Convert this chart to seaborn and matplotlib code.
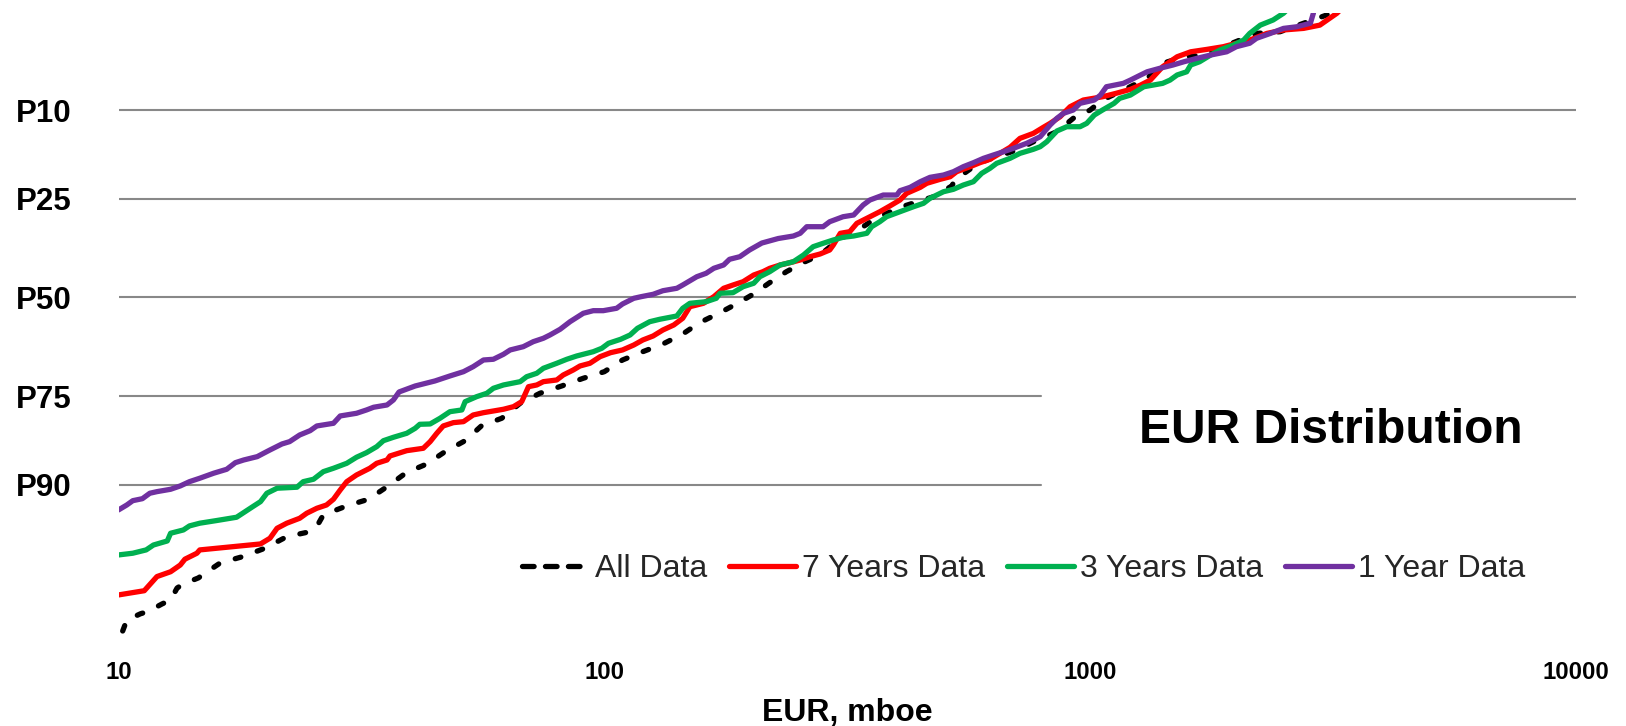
import numpy as np
import pandas as pd
import matplotlib
matplotlib.use("Agg")
import matplotlib.pyplot as plt
from matplotlib.lines import Line2D
from matplotlib.ticker import FixedLocator, NullLocator
import seaborn as sns
from statistics import NormalDist

# ---------------- data (EUR in mboe, exceedance percentile P) ----------------
all_eur = [10.2,10.4,11.1,11.5,12.3,12.8,13.2,13.6,14.6,15,16.2,18,20,22.2,24.8,25.7,26.4,29.5,32.7,35.9,39.1,43.1,47,51.7,55.9,61.5,67.1,73.7,81.7,90.5,100,109,120,132,145,157,173,189,204,218,237,259,278,303,341,361,406,476,519,527,575,613,706,764,854,923,1000,1060,1190,1310,1410,1560,1710,1880,2200,2460,2750,3070,3190]
all_p = [98.87,98.63,98.47,98.41,98.19,98.07,97.65,97.49,97.24,97.06,96.52,96.18,95.68,94.90,94.53,94.00,93.14,92.29,91.61,90.12,88.45,87.25,85.41,83.62,80.96,79.55,76.52,74.37,72.74,70.96,69.40,66.54,64.45,62.47,59.85,56.84,54.14,51.42,48.85,46.13,43.00,40.33,38.57,34.71,31.42,29.51,26.88,24.54,22.30,21.09,18.56,17.36,15.67,14.35,12.85,11.03,10.00,8.85,7.64,6.70,5.47,4.99,4.87,4.32,3.55,3.46,3.04,2.67,2.39]

y7_eur = [10,11.3,12,12.8,13.4,13.7,14.5,14.7,19.6,20.5,21.2,22.2,23.6,24.4,25.6,26.8,27.7,28.6,29.5,30.9,32.9,34,35.7,36.2,39.2,42.4,43.8,45.2,46.6,48.9,51.3,53.7,56.4,62,65,67.6,69.8,72.6,74.9,79.8,82.3,86.3,89.1,93.4,98,103,109,115,120,126,132,139,145,150,160,168,176,184,193,203,212,219,230,241,253,265,278,291,296,306,320,331,347,369,387,406,419,447,461,491,515,531,566,593,622,652,684,717,764,801,827,867,909,968,1060,1130,1210,1270,1330,1410,1510,1610,1740,1880,2000,2130,2310,2500,2750,2970,3220,3350]
y7_p = [97.90,97.75,97.18,96.96,96.63,96.32,95.98,95.78,95.40,95.01,94.27,93.86,93.44,92.99,92.52,92.20,91.61,90.59,89.60,88.75,87.85,87.15,86.67,86.07,85.25,84.87,83.78,82.34,81.01,80.39,80.20,78.91,78.45,77.76,77.23,76.18,72.90,72.51,71.75,71.36,70.19,68.99,68.02,67.36,65.71,64.70,64.01,62.73,61.43,60.38,58.79,57.45,55.65,52.51,51.58,49.78,47.49,46.60,45.70,43.89,43.00,42.09,41.21,40.60,39.89,39.02,38.31,37.27,35.99,33.04,32.64,30.60,29.41,27.88,26.58,25.26,23.82,22.57,21.75,20.96,20.45,19.49,18.56,17.84,17.24,16.22,15.23,13.83,13.09,12.23,11.69,10.83,9.61,8.85,8.50,8.14,7.74,7.32,6.86,5.73,4.99,4.65,4.49,4.32,4.11,3.92,3.55,3.37,3.29,3.13,2.60,2.28]

y3_eur = [10,10.7,11.4,11.8,12.6,12.8,13.6,14,14.7,15.9,17.5,18.1,18.9,19.6,20.2,21.2,23.3,24,25.2,26.4,27.7,29.5,30.9,32.4,34,35.1,36.8,39.2,40.8,41.7,43.8,45.9,48.1,50.9,51.7,54.6,57.3,59.1,62,67.1,69.2,72.6,74.9,79.8,83.7,87.7,94.9,98.8,102,108,113,117,124,130,141,145,150,162,170,173,184,193,203,209,219,230,245,257,269,282,296,310,326,347,355,369,381,406,433,454,468,499,523,548,575,598,622,642,684,717,764,789,814,854,895,953,984,1020,1060,1120,1150,1210,1290,1410,1460,1510,1580,1610,1680,1770,1850,1970,2070,2130,2240,2380,2500,2600]
y3_p = [96.08,95.98,95.78,95.47,95.20,94.65,94.40,94.08,93.86,93.64,93.35,92.93,92.36,91.86,90.96,90.39,90.27,89.60,89.30,88.31,87.85,87.15,86.26,85.56,84.61,83.62,83.04,82.34,81.44,80.70,80.64,79.55,78.25,77.90,76.18,75.11,74.37,73.26,72.51,71.75,70.59,69.78,68.58,67.36,66.36,65.54,64.45,63.58,62.29,61.25,60.11,58.34,56.57,55.92,55.03,52.94,51.58,51.15,50.22,48.85,48.69,47.06,46.13,44.35,43.00,41.21,40.33,38.57,36.42,35.55,34.71,34.04,33.71,33.04,31.42,30.22,29.04,27.88,26.74,25.98,24.89,23.48,22.98,22.10,21.43,19.80,18.86,17.95,17.07,16.22,15.55,15.13,14.35,12.75,12.15,12.15,11.69,10.61,10.00,9.22,8.67,8.32,7.48,7.16,6.86,6.41,6.14,5.60,5.35,4.87,4.53,4.22,3.92,3.55,3.13,2.89,2.60,2.28]

y1_eur = [10,10.4,10.7,11.2,11.6,12,12.8,13.4,14,14.7,15.7,16.7,17.4,18.1,19.3,19.9,20.5,21.7,22.5,23.6,24.8,25.6,27.7,28.6,30.9,32.4,33.5,35.7,36.8,37.8,40.8,44.8,48.1,51.3,53.7,56.4,59.1,62,64,68.1,71.4,74.9,77.3,81.1,85,90.5,94.9,99.5,106,109,115,119,126,132,141,145,155,162,168,176,181,190,199,211,228,245,253,261,282,291,310,326,341,352,375,400,406,426,447,468,499,523,548,575,603,632,663,695,740,789,827,854,881,923,953,1020,1050,1080,1170,1210,1270,1310,1390,1480,1560,1660,1770,1910,2000,2130,2200,2350,2500,2660,2840,2880,2890]
y1_p = [92.68,92.20,91.76,91.55,90.96,90.78,90.51,90.12,89.60,89.17,88.52,87.99,87.06,86.67,86.17,85.65,85.14,84.17,83.78,82.64,81.87,81.01,80.51,79.10,78.57,77.90,77.35,76.88,75.82,74.08,72.74,71.59,70.42,69.40,68.19,66.54,66.36,65.11,64.01,63.17,61.87,60.98,60.11,58.60,56.57,54.30,53.59,53.59,52.94,51.77,50.22,49.78,49.13,48.15,47.49,46.60,44.35,43.43,42.09,41.21,39.70,39.02,37.27,35.48,34.34,33.71,33.04,31.42,31.42,30.22,29.04,28.64,26.36,25.26,24.18,24.18,23.27,22.57,21.43,20.57,20.12,19.49,18.56,17.84,17.07,16.50,15.95,15.39,14.59,13.59,11.92,11.03,10.40,10.00,9.22,8.85,8.32,7.48,7.16,6.86,6.41,6.14,5.86,5.60,5.35,5.10,4.87,4.65,4.32,4.11,3.82,3.55,3.29,3.21,3.04,2.60,2.28]

series_names = ["All Data", "7 Years Data", "3 Years Data", "1 Year Data"]
series_data = [(all_eur, all_p), (y7_eur, y7_p), (y3_eur, y3_p), (y1_eur, y1_p)]
p_ticks = [10, 25, 50, 75, 90]
p_labels = ["P10", "P25", "P50", "P75", "P90"]
x_ticks = [10, 100, 1000, 10000]
x_labels = ["10", "100", "1000", "10000"]

# ---------------- helpers ----------------
ND = NormalDist()
def probit(p):
    return [ND.inv_cdf(1 - v / 100.0) for v in p]

rows = []
for name, (eur, pct) in zip(series_names, series_data):
    for i, (e, z) in enumerate(zip(eur, probit(pct))):
        rows.append({"EUR": e, "z": z, "Series": name, "idx": i})
df = pd.DataFrame(rows)

colors = {"All Data": "#000000", "7 Years Data": "#FF0000",
          "3 Years Data": "#00B050", "1 Year Data": "#7030A0"}
curve_dash = (1.1, 3.3)
legend_dash = (2.2, 2.15)
dashes = {"All Data": curve_dash, "7 Years Data": "", "3 Years Data": "", "1 Year Data": ""}

sns.set_theme(style="white")
plt.rcParams["font.family"] = ["Liberation Sans", "DejaVu Sans"]

W, H = 1626, 726
fig = plt.figure(figsize=(W / 100, H / 100), dpi=100)
ax = fig.add_axes([118.5 / W, 1 - 650 / H, (1576 - 118.5) / W, (650 - 13) / H])

LW = 3.8
sns.lineplot(data=df, x="EUR", y="z", hue="Series", style="Series",
             hue_order=series_names, style_order=series_names,
             palette=colors, dashes=dashes, sort=False, estimator=None,
             linewidth=LW, ax=ax, legend=False)
for ln in ax.lines:
    ln.set_dash_capstyle("round")
    ln.set_solid_capstyle("round")
    ln.set_solid_joinstyle("round")
    ln.set_dash_joinstyle("round")
    ln.set_zorder(3)

ax.set_xscale("log")
ax.set_xlim(10, 10000)
ax.set_ylim(-2.41, 1.945)

# gridlines (the lower two stop short where the title sits)
grid_xmax = [1.0, 1.0, 1.0, 0.633, 0.633]
for zt, xm in zip(probit(p_ticks), grid_xmax):
    ax.axhline(zt, xmin=0, xmax=xm, color="#888888", lw=1.5, zorder=1)

ax.yaxis.set_major_locator(FixedLocator(probit(p_ticks)))
ax.set_yticklabels(p_labels, fontsize=22.5, fontweight="bold")
ax.xaxis.set_major_locator(FixedLocator(x_ticks))
ax.xaxis.set_minor_locator(NullLocator())
ax.set_xticklabels(x_labels, fontsize=17.3, fontweight="bold")
ax.tick_params(axis="y", length=0, pad=33.5, colors="black")
ax.tick_params(axis="x", length=0, pad=8, colors="black")
ax.grid(False)
for s in ax.spines.values():
    s.set_visible(False)
ax.set_ylabel("")
ax.set_xlabel("EUR, mboe", fontsize=23, fontweight="bold", labelpad=10, color="black")

fig.text(1331 / W, 1 - 431 / H, "EUR Distribution", ha="center", va="center",
         fontsize=34.5, fontweight="bold", color="black")

handles = []
for name in series_names:
    h = Line2D([], [], color=colors[name], lw=LW,
               linestyle=(0, legend_dash) if name == "All Data" else "-",
               dash_capstyle="round", solid_capstyle="round")
    handles.append(h)
fig.legend(handles, series_names, loc="center right",
           bbox_to_anchor=(1525 / W, 1 - 569 / H), ncol=4, frameon=False,
           fontsize=23, handlelength=2.09, handletextpad=0.18, columnspacing=0.7,
           borderpad=0, borderaxespad=0)

fig.savefig("out.png", dpi=100)
